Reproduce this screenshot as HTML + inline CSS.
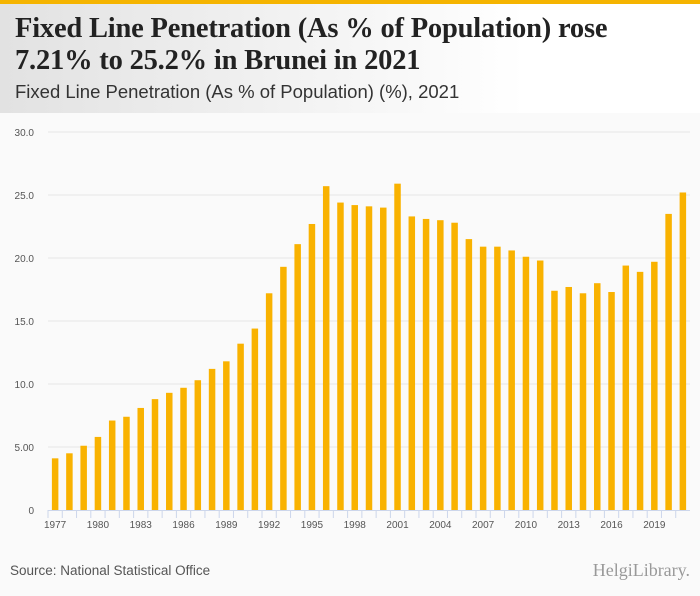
<!DOCTYPE html>
<html><head><meta charset="utf-8"><style>
body{margin:0;width:700px;height:596px;background:#fafafa;font-family:"Liberation Sans",sans-serif;overflow:hidden;position:relative}
#top{position:absolute;left:0;top:0;width:700px;height:4px;background:#f5b400}
#hdr{position:absolute;left:0;top:4px;width:700px;height:109px;background:linear-gradient(90deg,#e2e2e2,#fff 75%)}
h1{position:absolute;left:15px;top:13px;margin:0;font:bold 28.5px/32px "Liberation Serif",serif;color:#222;letter-spacing:-0.2px;white-space:nowrap}
#sub{position:absolute;left:15px;top:81px;font-size:18.5px;color:#333;white-space:nowrap}
#src{position:absolute;left:10px;top:563px;font-size:13.5px;color:#555}
#logo{position:absolute;right:10px;top:560px;font:18px "Liberation Serif",serif;color:#999}
</style></head><body>
<div id="top"></div>
<div id="hdr"></div>
<h1>Fixed Line Penetration (As % of Population) rose<br>7.21% to 25.2% in Brunei in 2021</h1>
<div id="sub">Fixed Line Penetration (As % of Population) (%), 2021</div>
<svg id="chart" width="700" height="596" style="position:absolute;left:0;top:0"></svg>
<div id="src">Source: National Statistical Office</div>
<div id="logo">HelgiLibrary.</div>
<script>
const years=[];for(let y=1977;y<=2021;y++)years.push(y);
const values=[4.1,4.5,5.1,5.8,7.1,7.4,8.1,8.8,9.3,9.7,10.3,11.2,11.8,13.2,14.4,17.2,19.3,21.1,22.7,25.7,24.4,24.2,24.1,24.0,25.9,23.3,23.1,23.0,22.8,21.5,20.9,20.9,20.6,20.1,19.8,17.4,17.7,17.2,18.0,17.3,19.4,18.9,19.7,23.5,25.2];
const yTicks=[0,5,10,15,20,25,30];
const yTickLabels=["0","5.00","10.0","15.0","20.0","25.0","30.0"];
const svg=document.getElementById('chart');const NS='http://www.w3.org/2000/svg';
const x0=48,x1=690,yb=510,yt=132,ymax=30;
const step=(x1-x0)/years.length;
const ys=v=>yb-(v/ymax)*(yb-yt);
const xs=i=>x0+step*i+step/2;
function mk(t,a){const e=document.createElementNS(NS,t);for(const k in a)e.setAttribute(k,a[k]);svg.appendChild(e);return e;}
yTicks.forEach((t,i)=>{
 if(t>0){const g=mk('line',{x1:x0,x2:x1,y1:ys(t),y2:ys(t),stroke:'#e6e6e6','stroke-width':1});
 
 }
 const l=mk('text',{x:34,y:ys(t)+4,'text-anchor':'end','font-size':10,fill:'#555','font-family':'Liberation Sans'});
 l.textContent=yTickLabels[i];
 
 
});
const ax=mk('line',{x1:x0,x2:x1,y1:yb+0.5,y2:yb+0.5,stroke:'#ccd6eb'});


values.forEach((v,i)=>{
 const bw=6.5;
 const r=mk('rect',{x:xs(i)-bw/2,y:ys(v),width:bw,height:yb-ys(v),fill:'#f9b200'});
 
 
 const tk=mk('line',{x1:x0+step*i,x2:x0+step*i,y1:yb,y2:yb+8,stroke:'#ccd6eb'});
 
 
 if(i%3===0){const t=mk('text',{x:xs(i),y:yb+18,'text-anchor':'middle','font-size':10,fill:'#555','font-family':'Liberation Sans'});
 t.textContent=years[i];
 
 }
});
</script>
</body></html>
